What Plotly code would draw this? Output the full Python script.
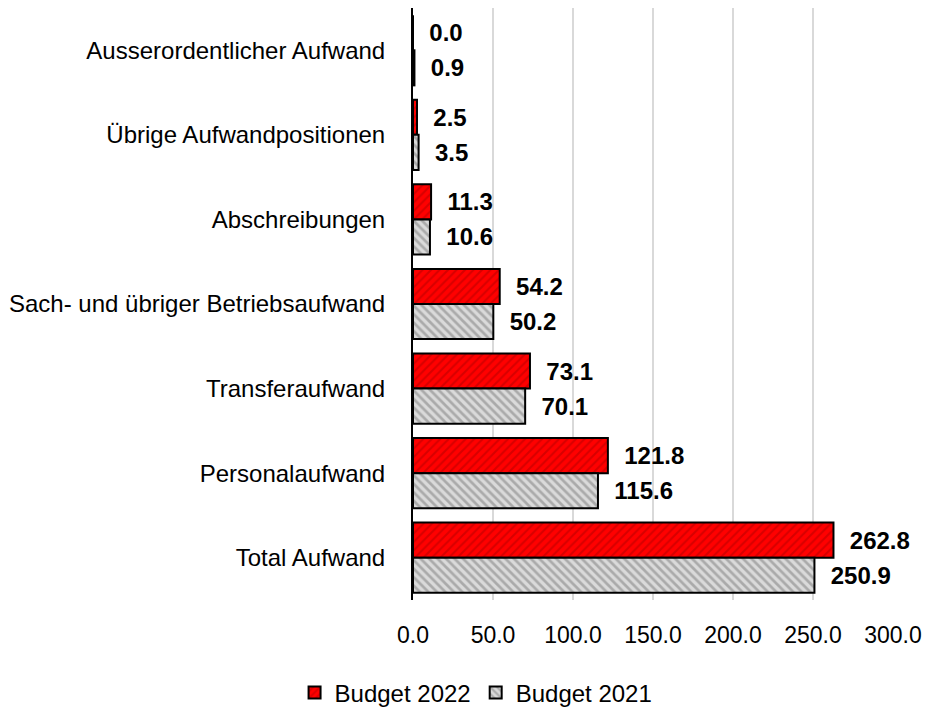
import plotly.graph_objects as go

categories = [
    "Ausserordentlicher Aufwand",
    "Übrige Aufwandpositionen",
    "Abschreibungen",
    "Sach- und übriger Betriebsaufwand",
    "Transferaufwand",
    "Personalaufwand",
    "Total Aufwand",
]
budget_2022 = [0.0, 2.5, 11.3, 54.2, 73.1, 121.8, 262.8]
budget_2021 = [0.9, 3.5, 10.6, 50.2, 70.1, 115.6, 250.9]
x_ticks = [0, 50, 100, 150, 200, 250, 300]
x_tick_labels = ["0.0", "50.0", "100.0", "150.0", "200.0", "250.0", "300.0"]

FONT = "Liberation Sans, Arial, sans-serif"

fig = go.Figure()
fig.add_trace(go.Bar(
    name="Budget 2022",
    y=categories, x=budget_2022, orientation="h",
    marker=dict(color="#ff0000",
                line=dict(color="#000000", width=2),
                pattern=dict(shape="/", fgcolor="#b00000", bgcolor="#ff0000", size=6, solidity=0.35)),
    texttemplate="  %{x:.1f}", textposition="outside",
    textfont=dict(family=FONT, size=24, color="#000000", weight="bold"),
    cliponaxis=False,
))
fig.add_trace(go.Bar(
    name="Budget 2021",
    y=categories, x=budget_2021, orientation="h",
    marker=dict(color="#d0d0d0",
                line=dict(color="#000000", width=2),
                pattern=dict(shape="\\", fgcolor="#7a7a7a", bgcolor="#dadada", size=6, solidity=0.45)),
    texttemplate="  %{x:.1f}", textposition="outside",
    textfont=dict(family=FONT, size=24, color="#000000", weight="bold"),
    cliponaxis=False,
))

fig.update_layout(
    width=928, height=710,
    barmode="group", bargap=0.17, bargroupgap=0,
    plot_bgcolor="#ffffff", paper_bgcolor="#ffffff",
    margin=dict(l=413, r=35, t=8, b=110, autoexpand=False),
    font=dict(family=FONT, size=24, color="#000000"),
    showlegend=True,
    legend=dict(orientation="h", xref="container", x=0.513, xanchor="center",
                y=-0.157, yanchor="middle",
                font=dict(family=FONT, size=24), itemwidth=30, traceorder="normal"),
)
fig.update_xaxes(
    range=[0, 300], tickvals=x_ticks, ticktext=x_tick_labels,
    showgrid=True, gridcolor="#d9d9d9", gridwidth=2,
    zeroline=False, showline=False,
    ticks="outside", ticklen=14, tickcolor="rgba(0,0,0,0)",
    tickfont=dict(family=FONT, size=23),
    automargin=False,
)
fig.update_yaxes(
    autorange="reversed", categoryorder="array", categoryarray=categories,
    showline=True, linecolor="#000000", linewidth=2,
    ticks="outside", ticklen=21, tickcolor="rgba(0,0,0,0)",
    tickfont=dict(family=FONT, size=24),
    showgrid=False, automargin=False,
)

fig.write_html("out.html", config={"displayModeBar": False},
               post_script="document.body.style.margin='0';")
